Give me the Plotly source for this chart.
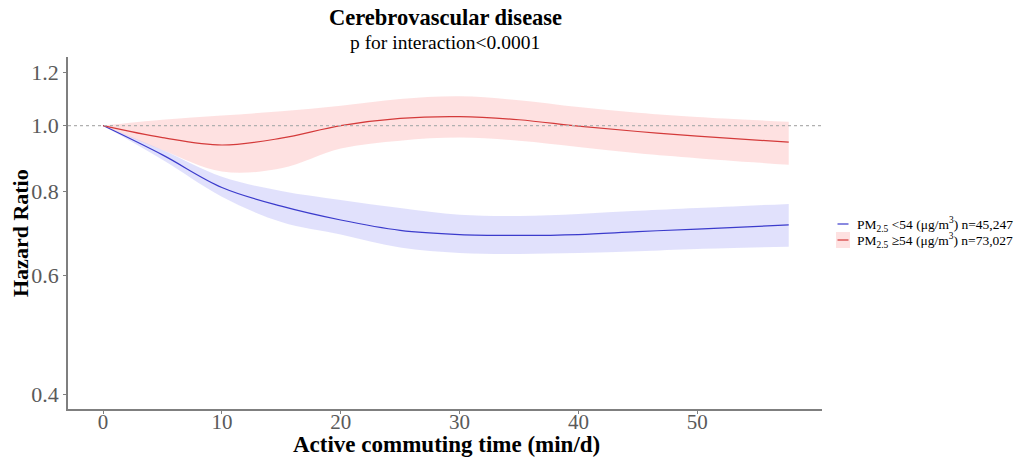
import plotly.graph_objects as go
import numpy as np

# Data
x_time = [0, 5, 10, 15, 20, 25, 30, 35, 40, 45, 50, 57.7]

low_hr = [1.0, 0.905, 0.81, 0.76, 0.725, 0.70, 0.69, 0.688, 0.69, 0.697, 0.703, 0.713]
low_upper = [1.0, 0.92, 0.84, 0.80, 0.776, 0.755, 0.738, 0.735, 0.74, 0.748, 0.755, 0.766]
low_lower = [1.0, 0.89, 0.785, 0.72, 0.69, 0.66, 0.648, 0.646, 0.648, 0.652, 0.657, 0.662]

high_hr = [1.0, 0.96, 0.936, 0.958, 1.0, 1.025, 1.031, 1.02, 0.998, 0.98, 0.965, 0.945]
high_upper = [1.0, 1.02, 1.035, 1.05, 1.07, 1.095, 1.105, 1.09, 1.065, 1.045, 1.03, 1.013]
high_lower = [1.0, 0.92, 0.855, 0.865, 0.925, 0.95, 0.96, 0.95, 0.93, 0.91, 0.895, 0.875]

x_ticks = [0, 10, 20, 30, 40, 50]
y_ticks = [0.4, 0.6, 0.8, 1.0, 1.2]
y_tick_labels = ["0.4", "0.6", "0.8", "1.0", "1.2"]

name_low = "PM<sub>2.5</sub> &lt;54 (μg/m<sup>3</sup>) n=45,247"
name_high = "PM<sub>2.5</sub> ≥54 (μg/m<sup>3</sup>) n=73,027"

blue_line = "#3b3bcc"
blue_band = "rgba(120,120,240,0.22)"
red_line = "#d43a3a"
red_band = "rgba(250,120,120,0.22)"

FONT = "Liberation Serif"

fig = go.Figure()

def add_series(x, hr, up, lo, line_c, band_c, name):
    fig.add_trace(go.Scatter(x=x, y=up, mode="lines", line=dict(width=0, shape="spline", color=band_c),
                             showlegend=False, hoverinfo="skip"))
    fig.add_trace(go.Scatter(x=x, y=lo, mode="lines", line=dict(width=0, shape="spline", color=band_c),
                             fill="tonexty", fillcolor=band_c, showlegend=False, hoverinfo="skip"))
    fig.add_trace(go.Scatter(x=x, y=hr, mode="lines", line=dict(width=1.2, shape="spline", color=line_c),
                             showlegend=False, name=name))

add_series(x_time, low_hr, low_upper, low_lower, blue_line, blue_band, name_low)
add_series(x_time, high_hr, high_upper, high_lower, red_line, red_band, name_high)

fig.add_hline(y=1.0, line=dict(color="#b0b0b0", width=1.2, dash="dot"))

# Manual legend (key boxes drawn in pixel-based paper coords)
W, H, L, B = 1023, 460, 68, 51
pw, ph = W - L - 201, H - 57 - B
def px(xp):
    return (xp - L) / pw
def py(yp):
    return (H - B - yp) / ph

shapes = []
annotations = []
legend_items = [(name_low, blue_line, blue_band, 224), (name_high, red_line, red_band, 240)]
for name, lc, bc, yc in legend_items:
    shapes.append(dict(type="rect", xref="paper", yref="paper", x0=px(836), x1=px(850),
                       y0=py(yc + 8), y1=py(yc - 8), fillcolor=bc, line=dict(width=0), layer="above"))
    shapes.append(dict(type="line", xref="paper", yref="paper", x0=px(837.5), x1=px(848.5),
                       y0=py(yc), y1=py(yc), line=dict(color=lc, width=1.2), layer="above"))
    annotations.append(dict(text=name, xref="paper", yref="paper", x=px(855), y=py(yc),
                            xanchor="left", yanchor="middle", showarrow=False,
                            font=dict(family=FONT, size=13.5, color="black")))

annotations += [
    dict(text="<b>Cerebrovascular disease</b>", xref="paper", yref="paper", x=0.5, y=py(18),
         xanchor="center", yanchor="middle", showarrow=False,
         font=dict(family=FONT, size=22.5, color="black")),
    dict(text="p for interaction&lt;0.0001", xref="paper", yref="paper", x=0.5, y=py(43),
         xanchor="center", yanchor="middle", showarrow=False,
         font=dict(family=FONT, size=19.5, color="black")),
    dict(text="<b>Active commuting time (min/d)</b>", xref="paper", yref="paper", x=px(446), y=py(444),
         xanchor="center", yanchor="middle", showarrow=False,
         font=dict(family=FONT, size=23, color="black")),
    dict(text="<b>Hazard Ratio</b>", xref="paper", yref="paper", x=px(20), y=py(233),
         xanchor="center", yanchor="middle", showarrow=False, textangle=-90,
         font=dict(family=FONT, size=22, color="black")),
]

fig.update_layout(
    width=W, height=H,
    margin=dict(l=L, r=201, t=57, b=B, autoexpand=False),
    paper_bgcolor="white", plot_bgcolor="white",
    font=dict(family=FONT, color="black"),
    showlegend=False,
    xaxis=dict(range=[-2.95, 60.5], tickvals=x_ticks, showgrid=False, zeroline=False,
               showline=True, linecolor="#7f7f7f", linewidth=1.5,
               ticks="outside", ticklen=3, tickcolor="#7f7f7f", ticklabelstandoff=-10,
               tickfont=dict(family=FONT, size=21, color="#5a5a5a")),
    yaxis=dict(type="log", range=[np.log10(0.381), np.log10(1.263)], tickvals=y_ticks,
               ticktext=y_tick_labels, showgrid=False, zeroline=False,
               showline=True, linecolor="#7f7f7f", linewidth=1.5,
               ticks="outside", ticklen=3, tickcolor="#7f7f7f",
               tickfont=dict(family=FONT, size=22, color="#5a5a5a")),
    shapes=shapes,
    annotations=annotations,
)

fig.write_html("out.html")
